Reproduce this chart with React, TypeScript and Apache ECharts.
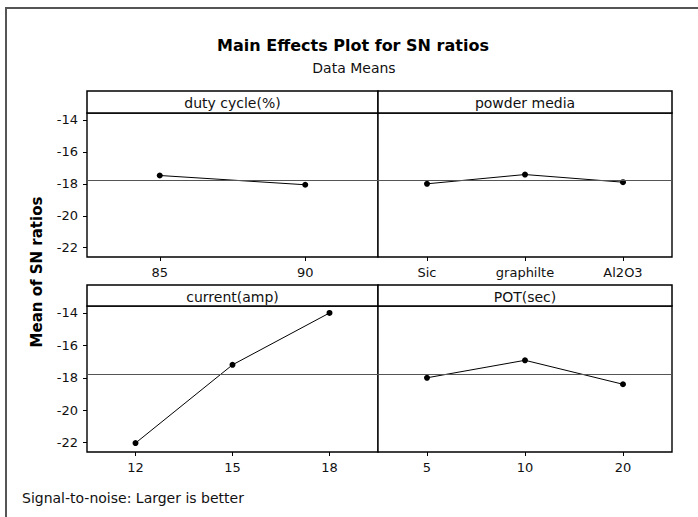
import React, { useEffect, useRef } from "react";
import * as echarts from "echarts";

const dutyCats = ["85", "90"];
const dutyVals = [-17.48, -18.06];
const powderCats = ["Sic", "graphilte", "Al2O3"];
const powderVals = [-18.0, -17.42, -17.9];
const currentCats = ["12", "15", "18"];
const currentVals = [-22.03, -17.2, -14.0];
const potCats = ["5", "10", "20"];
const potVals = [-18.0, -16.92, -18.4];
const grandMean = -17.77;
const yTicks = [-22, -20, -18, -16, -14];
const panelTitles = ["duty cycle(%)", "powder media", "current(amp)", "POT(sec)"];

const FONT = "'DejaVu Sans', sans-serif";

export default function App() {
  const ref = useRef<HTMLDivElement>(null);
  useEffect(() => {
    document.body.style.margin = "0";
    const chart = echarts.init(ref.current!, null, { renderer: "svg" });

    const L = 87, M = 378, R = 672;
    const rows = [
      { hTop: 91, top: 113, bottom: 257 },
      { hTop: 285, top: 306, bottom: 452 },
    ];
    const cols = [
      { left: L, width: M - L },
      { left: M, width: R - M },
    ];
    const panels = [
      { cats: dutyCats, vals: dutyVals, r: 0, c: 0 },
      { cats: powderCats, vals: powderVals, r: 0, c: 1 },
      { cats: currentCats, vals: currentVals, r: 1, c: 0 },
      { cats: potCats, vals: potVals, r: 1, c: 1 },
    ];

    const grid = panels.map((p) => ({
      left: cols[p.c].left,
      width: cols[p.c].width,
      top: rows[p.r].top,
      height: rows[p.r].bottom - rows[p.r].top,
      show: true,
      borderColor: "#000",
      borderWidth: 1.4,
      backgroundColor: "#fff",
    }));

    const xAxis = panels.map((p, i) => ({
      type: "category",
      gridIndex: i,
      data: p.cats,
      boundaryGap: true,
      axisLine: { show: false },
      axisTick: { show: true, alignWithLabel: true, length: 4, lineStyle: { color: "#000" } },
      axisLabel: { color: "#111", fontSize: 13, fontFamily: FONT, margin: 9 },
      splitLine: { show: false },
    }));

    const yAxis = panels.map((p, i) => ({
      type: "value",
      gridIndex: i,
      min: -22.58,
      max: -13.57,
      axisLine: { show: false },
      axisTick: {
        show: p.c === 0,
        length: 4,
        customValues: yTicks,
        lineStyle: { color: "#000" },
      },
      axisLabel: {
        show: p.c === 0,
        customValues: yTicks,
        color: "#111",
        fontSize: 13,
        fontFamily: FONT,
        margin: 9,
      },
      splitLine: { show: false },
    }));

    const series = panels.map((p, i) => ({
      type: "line",
      xAxisIndex: i,
      yAxisIndex: i,
      data: p.vals,
      symbol: "circle",
      symbolSize: 6,
      itemStyle: { color: "#000" },
      lineStyle: { color: "#000", width: 1 },
      markLine: {
        silent: true,
        symbol: "none",
        label: { show: false },
        lineStyle: { color: "#555", width: 1, type: "solid" },
        data: [{ yAxis: grandMean }],
      },
      z: 3,
    }));

    const headers: any[] = [];
    panels.forEach((p, i) => {
      const col = cols[p.c];
      const row = rows[p.r];
      headers.push({
        type: "rect",
        shape: { x: col.left, y: row.hTop, width: col.width, height: row.top - row.hTop },
        style: { fill: "#fff", stroke: "#000", lineWidth: 1.5 },
        z: 10,
      });
      headers.push({
        type: "text",
        x: col.left + col.width / 2,
        y: (row.hTop + row.top) / 2 + 1,
        style: {
          text: panelTitles[i],
          fill: "#111",
          font: `14px ${FONT}`,
          textAlign: "center",
          textVerticalAlign: "middle",
        },
        z: 11,
      });
    });

    chart.setOption({
      animation: false,
      backgroundColor: "#fff",
      grid,
      xAxis,
      yAxis,
      series,
      graphic: [
        {
          type: "rect",
          shape: { x: 6, y: 8, width: 760, height: 560 },
          style: { fill: "none", stroke: "#555", lineWidth: 2 },
          z: 1,
        },
        {
          type: "text",
          x: 353,
          y: 45,
          style: {
            text: "Main Effects Plot for SN ratios",
            fill: "#000",
            font: `bold 16px ${FONT}`,
            textAlign: "center",
            textVerticalAlign: "middle",
          },
        },
        {
          type: "text",
          x: 354,
          y: 68,
          style: {
            text: "Data Means",
            fill: "#111",
            font: `14px ${FONT}`,
            textAlign: "center",
            textVerticalAlign: "middle",
          },
        },
        {
          type: "text",
          x: 37,
          y: 272,
          rotation: Math.PI / 2,
          style: {
            text: "Mean of SN ratios",
            fill: "#000",
            font: `bold 15px ${FONT}`,
            textAlign: "center",
            textVerticalAlign: "middle",
          },
        },
        {
          type: "text",
          x: 22,
          y: 498,
          style: {
            text: "Signal-to-noise: Larger is better",
            fill: "#111",
            font: `14px ${FONT}`,
            textAlign: "left",
            textVerticalAlign: "middle",
          },
        },
        ...headers,
      ],
    });
    return () => chart.dispose();
  }, []);
  return <div ref={ref} style={{ width: 698, height: 517 }} />;
}
